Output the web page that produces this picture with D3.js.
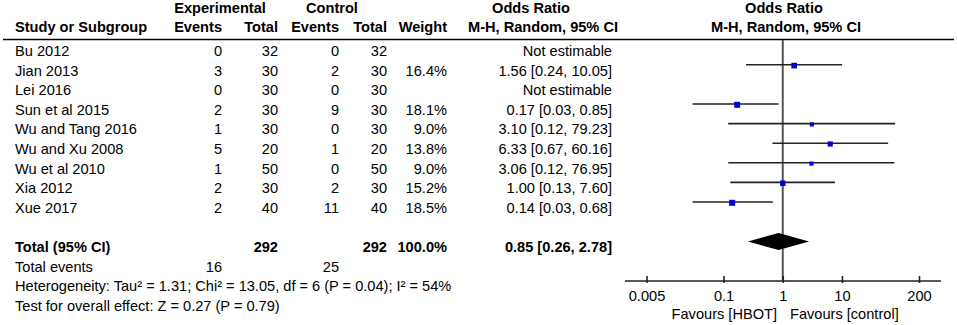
<!DOCTYPE html>
<html>
<head>
<meta charset="utf-8">
<script src="https://cdn.jsdelivr.net/npm/d3@7"></script>
<style>
  body { margin: 0; background: #fff; }
  svg text { font-family: "Liberation Sans", Arial, sans-serif; font-size: 14.6px; fill: #000; }
  .bold { font-weight: bold; }
</style>
</head>
<body>
<div id="container"></div>
<script>
const studies = ['Bu 2012', 'Jian 2013', 'Lei 2016', 'Sun et al 2015', 'Wu and Tang 2016',
  'Wu and Xu 2008', 'Wu et al 2010', 'Xia 2012', 'Xue 2017'];
const expEvents = [0, 3, 0, 2, 1, 5, 1, 2, 2];
const expTotal = [32, 30, 30, 30, 30, 20, 50, 30, 40];
const ctrlEvents = [0, 2, 0, 9, 0, 1, 0, 2, 11];
const ctrlTotal = [32, 30, 30, 30, 30, 20, 50, 30, 40];
const weights = [null, 16.4, null, 18.1, 9.0, 13.8, 9.0, 15.2, 18.5];
const orValue = [null, 1.56, null, 0.17, 3.10, 6.33, 3.06, 1.00, 0.14];
const orLow = [null, 0.24, null, 0.03, 0.12, 0.67, 0.12, 0.13, 0.03];
const orHigh = [null, 10.05, null, 0.85, 79.23, 60.16, 76.95, 7.60, 0.68];

const pooled = { or: 0.85, low: 0.26, high: 2.78 };
const totals = { exp: 292, ctrl: 292, weight: '100.0%', expEvents: 16, ctrlEvents: 25 };
const heterogeneity = 'Heterogeneity: Tau² = 1.31; Chi² = 13.05, df = 6 (P = 0.04); I² = 54%';
const overallTest = 'Test for overall effect: Z = 0.27 (P = 0.79)';
const axisTicks = [0.005, 0.1, 1, 10, 200];

const width = 957, height = 325;
const svg = d3.select('#container').append('svg')
  .attr('width', width).attr('height', height);

// row index -> text baseline
const yRow = d3.scaleLinear().domain([0, 1]).range([56, 75.6]);
const markOff = -10.8;

const x = d3.scaleLog().domain([0.005, 200]).range([646.5, 919]);
const boxSize = d3.scaleSqrt().domain([0, 18.5]).range([0, 6]);

// columns: right edges
const col = { study: 15, expEv: 222, expTot: 278, ctrlEv: 339, ctrlTot: 387, weight: 447, or: 612 };

function txt(xp, yp, s, anchor, cls) {
  svg.append('text').attr('x', xp).attr('y', yp)
    .attr('text-anchor', anchor || 'end')
    .attr('class', cls || null)
    .text(s);
}

// headers
txt(220, 12.5, 'Experimental', 'middle', 'bold');
txt(332, 12.5, 'Control', 'middle', 'bold');
txt(531, 12.5, 'Odds Ratio', 'middle', 'bold');
txt(784, 12.5, 'Odds Ratio', 'middle', 'bold');
txt(col.study, 31.5, 'Study or Subgroup', 'start', 'bold');
txt(col.expEv, 31.5, 'Events', 'end', 'bold');
txt(col.expTot, 31.5, 'Total', 'end', 'bold');
txt(col.ctrlEv, 31.5, 'Events', 'end', 'bold');
txt(col.ctrlTot, 31.5, 'Total', 'end', 'bold');
txt(col.weight, 31.5, 'Weight', 'end', 'bold');
txt(618, 31.5, 'M-H, Random, 95% CI', 'end', 'bold');
txt(786, 31.5, 'M-H, Random, 95% CI', 'middle', 'bold');

svg.append('line').attr('x1', 3).attr('x2', 954).attr('y1', 39.5).attr('y2', 39.5)
  .attr('stroke', '#000').attr('stroke-width', 1.5);

// study rows
const fmt = d3.format('.2f');
studies.forEach((s, i) => {
  const y = yRow(i);
  txt(col.study, y, s, 'start');
  txt(col.expEv, y, expEvents[i]);
  txt(col.expTot, y, expTotal[i]);
  txt(col.ctrlEv, y, ctrlEvents[i]);
  txt(col.ctrlTot, y, ctrlTotal[i]);
  if (weights[i] != null) txt(col.weight, y, weights[i].toFixed(1) + '%');
  txt(col.or, y, orValue[i] == null ? 'Not estimable'
    : `${fmt(orValue[i])} [${fmt(orLow[i])}, ${fmt(orHigh[i])}]`);
});

// total rows
txt(col.study, yRow(10), 'Total (95% CI)', 'start', 'bold');
txt(col.expTot, yRow(10), totals.exp, 'end', 'bold');
txt(col.ctrlTot, yRow(10), totals.ctrl, 'end', 'bold');
txt(col.weight, yRow(10), totals.weight, 'end', 'bold');
txt(col.or, yRow(10), `${fmt(pooled.or)} [${fmt(pooled.low)}, ${fmt(pooled.high)}]`, 'end', 'bold');
txt(col.study, yRow(11), 'Total events', 'start');
txt(col.expEv, yRow(11), totals.expEvents);
txt(col.ctrlEv, yRow(11), totals.ctrlEvents);
txt(col.study, yRow(12), heterogeneity, 'start');
txt(col.study, yRow(13), overallTest, 'start');

// forest plot
const axisY = 281;
svg.append('line').attr('x1', x(1)).attr('x2', x(1)).attr('y1', 40).attr('y2', axisY)
  .attr('stroke', '#555').attr('stroke-width', 2);

const rows = studies.map((s, i) => ({ i, or: orValue[i], lo: orLow[i], hi: orHigh[i], w: weights[i] }))
  .filter(d => d.or != null);

svg.selectAll('line.ci').data(rows).enter().append('line')
  .attr('class', 'ci')
  .attr('x1', d => x(d.lo)).attr('x2', d => x(d.hi))
  .attr('y1', d => yRow(d.i) + markOff).attr('y2', d => yRow(d.i) + markOff)
  .attr('stroke', '#222').attr('stroke-width', 1.6);

svg.selectAll('rect.box').data(rows).enter().append('rect')
  .attr('class', 'box')
  .attr('x', d => x(d.or) - boxSize(d.w) / 2)
  .attr('y', d => yRow(d.i) + markOff - boxSize(d.w) / 2 + 0.8)
  .attr('width', d => boxSize(d.w)).attr('height', d => boxSize(d.w))
  .attr('fill', '#0000cc');

const dy = yRow(10) + markOff + 0.3;
svg.append('path')
  .attr('d', `M${x(pooled.low)},${dy} L${x(pooled.or)},${dy - 8.5} L${x(pooled.high)},${dy} L${x(pooled.or)},${dy + 8.5} Z`)
  .attr('fill', '#000');

// axis
svg.append('line').attr('x1', x(0.005) - 21.5).attr('x2', x(200) + 22).attr('y1', axisY).attr('y2', axisY)
  .attr('stroke', '#222').attr('stroke-width', 1.6);

const axis = svg.append('g').attr('transform', `translate(0,${axisY})`)
  .call(d3.axisBottom(x).tickValues(axisTicks).tickSize(-5).tickPadding(10)
    .tickFormat(d => d3.format('~g')(d)));
axis.select('.domain').remove();
axis.selectAll('.tick line').attr('y1', 2).attr('y2', -5).attr('stroke', '#222').attr('stroke-width', 1.6);
axis.selectAll('.tick text').style('font-size', '14.6px').style('font-family', '"Liberation Sans", Arial, sans-serif').attr('fill', '#000');

txt(777, 318.5, 'Favours [HBOT]', 'end');
txt(790, 318.5, 'Favours [control]', 'start');
</script>
</body>
</html>
